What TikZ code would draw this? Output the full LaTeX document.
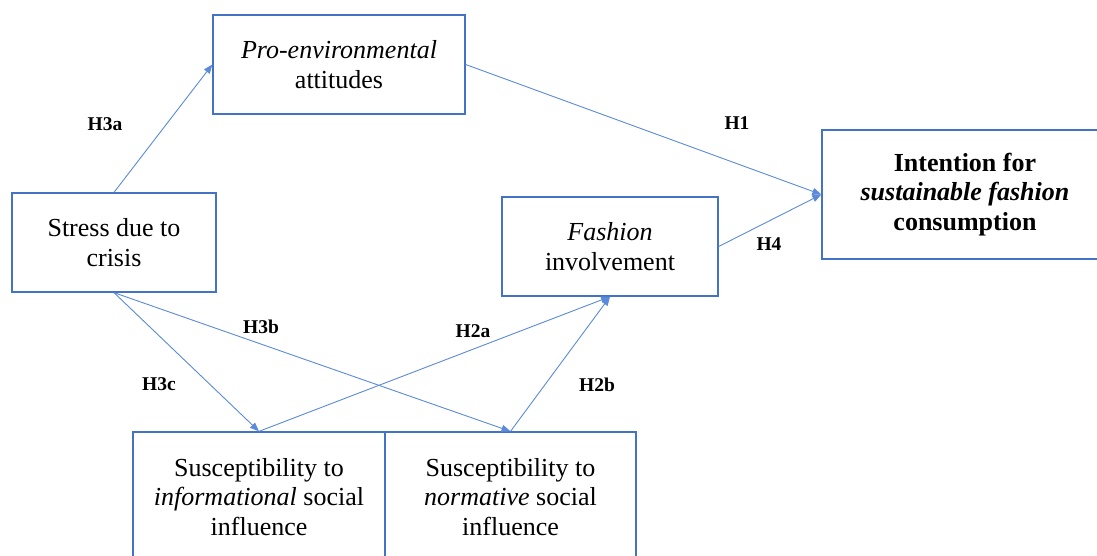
\documentclass[tikz,border=0pt]{standalone}
\usepackage{fontspec}
\setmainfont{Liberation Serif}
\usetikzlibrary{arrows.meta}
\definecolor{boxblue}{RGB}{68,114,196}
\definecolor{linkblue}{RGB}{91,138,216}
\begin{document}
\begin{tikzpicture}[x=1pt,y=-1pt,
  box/.style={draw=boxblue, line width=1.3pt, align=center, inner sep=0pt,
    font=\fontsize{26}{29.5}\selectfont},
  link/.style={draw=linkblue, line width=0.9pt, -{Triangle[length=9pt,width=7pt]}},
  hyp/.style={font=\fontsize{19.5}{22}\selectfont\bfseries, inner sep=0pt}]
\useasboundingbox (0,0) rectangle (1097,556);
\clip (0,0) rectangle (1097,556);
% constructs
\node[box, minimum width=252pt, minimum height=99pt] (pro) at (339,64.5)
  {\textit{Pro-environmental}\\attitudes};
\node[box, minimum width=204pt, minimum height=99pt] (stress) at (114,242.5)
  {Stress due to\\crisis};
\node[box, minimum width=216pt, minimum height=99pt] (fashion) at (610,246.5)
  {\textit{Fashion}\\involvement};
\node[box, minimum width=286pt, minimum height=129pt] (intent) at (965,194.5)
  {\textbf{Intention for}\\\textbf{\textit{sustainable fashion}}\\\textbf{consumption}};
\node[box, minimum width=252pt, minimum height=130pt] (info) at (259,497)
  {Susceptibility to\\\textit{informational} social\\influence};
\node[box, minimum width=251pt, minimum height=130pt] (norm) at (510.5,497)
  {Susceptibility to\\\textit{normative} social\\influence};
% hypothesised paths
\draw[link] (stress.north) -- (pro.west);
\draw[link] (pro.east) -- (intent.west);
\draw[link] (fashion.east) -- (intent.west);
\draw[link] (stress.south) -- (info.north);
\draw[link] (stress.south) -- (norm.north);
\draw[link] (info.north) -- (fashion.south);
\draw[link] (norm.north) -- (fashion.south);
% hypothesis labels
\node[hyp] (h3a) at (105,124) {H3a};
\node[hyp] (h1) at (737,123) {H1};
\node[hyp] (h4) at (769,244) {H4};
\node[hyp] (h3b) at (261,327) {H3b};
\node[hyp] (h2a) at (473,331) {H2a};
\node[hyp] (h3c) at (159,384) {H3c};
\node[hyp] (h2b) at (597,385) {H2b};
\end{tikzpicture}
\end{document}
